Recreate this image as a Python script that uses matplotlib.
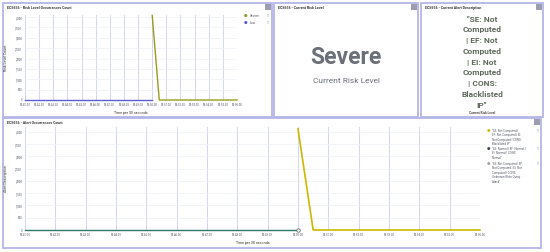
import matplotlib
matplotlib.use("Agg")
import matplotlib.pyplot as plt
from matplotlib.patches import Rectangle

plt.rcParams['font.family'] = ['Roboto', 'DejaVu Sans']

# time axis labels (one tick per minute), data every 30 seconds
time_labels = ["09:41:00", "09:42:00", "09:43:00", "09:44:00", "09:45:00", "09:46:00",
               "09:47:00", "09:48:00", "09:49:00", "09:50:00", "09:51:00", "09:52:00",
               "09:53:00", "09:54:00", "09:55:00", "09:56:00"]
y_ticks = [0, 500, 1000, 1500, 2000, 2500, 3000, 3500, 4000]

# risk level occurrences
low_t = [0.0, 0.5, 1.0, 1.5, 2.0, 2.5, 3.0, 3.5, 4.0, 4.5, 5.0, 5.5, 6.0, 6.5, 7.0, 7.5, 8.0, 8.5, 9.0]
low_v = [0, 0, 0, 0, 0, 0, 0, 0, 0, 0, 0, 0, 0, 0, 0, 0, 0, 0, 0]
severe_t = [9.0, 9.5, 10.0, 10.5, 11.0, 11.5, 12.0, 12.5, 13.0, 13.5, 14.0, 14.5, 15.0]
severe_v = [4080, 0, 0, 0, 0, 0, 0, 0, 0, 0, 0, 0, 0]

# alert occurrences
normal_t = [0.0, 0.5, 1.0, 1.5, 2.0, 2.5, 3.0, 3.5, 4.0, 4.5, 5.0, 5.5, 6.0, 6.5, 7.0, 7.5, 8.0, 8.5, 9.0]
normal_v = [0, 0, 0, 0, 0, 0, 0, 0, 0, 0, 0, 0, 0, 0, 0, 0, 0, 0, 0]
blacklist_t = [9.0, 9.5, 10.0, 10.5, 11.0, 11.5, 12.0, 12.5, 13.0, 13.5, 14.0, 14.5, 15.0]
blacklist_v = [4120, 0, 0, 0, 0, 0, 0, 0, 0, 0, 0, 0, 0]

alert_labels = [['"SE: Not Computed |', 'EF: Not Computed | EI:', 'Not Computed | CONS:', 'Blacklisted IP"'],
                ['"SE: Normal | EF: Normal |', 'EI: Normal | CONS:', 'Normal"'],
                ['"SE: Not Computed | EF:', 'Not Computed | EI: Not', 'Computed | CONS:',
                 'Unknown Write Query', 'Attack"']]
alert_counts = ["1", "1", "1"]

W, H = 550, 252
fig = plt.figure(figsize=(W / 100, H / 100), dpi=100)
fig.patch.set_facecolor("white")

border = "#b4b5e6"
grid_c = "#d3d4f2"
txt_c = "#555a66"


def rect(x0, y0, x1, y1):
    return [x0 / W, 1 - y1 / H, (x1 - x0) / W, (y1 - y0) / H]


def ftext(x, y, s, **kw):
    fig.text(x / W, 1 - y / H, s, **kw)


def panel(x0, y0, x1, y1, title):
    fig.patches.append(Rectangle((x0 / W, 1 - y1 / H), (x1 - x0) / W, (y1 - y0) / H,
                                 transform=fig.transFigure, facecolor="white",
                                 edgecolor=border, lw=1.3, zorder=-5))
    fig.patches.append(Rectangle(((x1 - 7) / W, 1 - (y0 + 7) / H), 6 / W, 6 / H,
                                 transform=fig.transFigure, facecolor="#9c9db0",
                                 edgecolor="none", zorder=-4))
    ftext(x0 + 4, y0 + 5, title, fontsize=2.6, fontweight="bold", color="#333",
          va="center", ha="left")


panel(3, 3, 272, 117, "ECS656 - Risk Level Occurrences Count")
panel(274, 3, 418, 117, "ECS656 - Current Risk Level")
panel(421, 3, 543, 117, "ECS656 - Current Alert Description")
panel(3, 118, 541, 248, "ECS656 - Alert Occurrences Count")


def style_axes(ax, top):
    ax.set_xlim(0, 15)
    ax.set_ylim(0, top)
    ax.set_xticks(range(len(time_labels)))
    ax.set_xticklabels(time_labels, fontsize=2.1, color=txt_c)
    ax.set_yticks(y_ticks)
    ax.set_yticklabels([f"{v:,}" for v in y_ticks], fontsize=2.1, color=txt_c)
    ax.tick_params(length=0, pad=2)
    for s in ax.spines.values():
        s.set_visible(False)
    ax.grid(axis="x", color=grid_c, lw=0.7)
    ax.grid(axis="y", color="#eeeef8", lw=0.5)
    ax.set_axisbelow(True)
    ax.set_facecolor("none")


# top chart
ax1 = fig.add_axes(rect(25, 15, 237, 100))
ax1.plot(low_t, low_v, color="#5b5fd8", lw=1.0, zorder=3, clip_on=False)
ax1.plot(severe_t, severe_v, color="#9a9c1c", lw=1.0, zorder=3, clip_on=False)
style_axes(ax1, 4100)
ax1.set_ylabel("Risk Level Count", fontsize=2.6, color="#333", labelpad=5)
ax1.set_xlabel("Time per 30 seconds", fontsize=2.6, color="#333", labelpad=3)
ftext(246, 16, "●", fontsize=3, color="#8e9a26", va="center", ha="center")
ftext(250, 16, "Severe", fontsize=2.3, color=txt_c, va="center")
ftext(267, 16, "1", fontsize=2.3, color=txt_c, va="center")
ftext(246, 23, "●", fontsize=3, color="#4d55d0", va="center", ha="center")
ftext(250, 23, "Low", fontsize=2.3, color=txt_c, va="center")
ftext(267, 23, "1", fontsize=2.3, color=txt_c, va="center")

# current risk level
ftext(346, 58, "Severe", fontsize=16.5, fontweight="bold", color="#6b6f78",
      ha="center", va="center")
ftext(346, 81, "Current Risk Level", fontsize=6, color="#6b6f78", ha="center", va="center")

# current alert description
desc_lines = ['"SE: Not', 'Computed', '| EF: Not', 'Computed', '| EI: Not',
              'Computed', '| CONS:', 'Blacklisted', 'IP"']
for i, line in enumerate(desc_lines):
    ftext(482, 19 + i * 10.75, line, fontsize=6, fontweight="bold", color="#5e6a5c",
          ha="center", va="center")
ftext(482, 113, "Current Risk Level", fontsize=2.3, fontweight="bold", color="#444",
      ha="center", va="center")

# bottom chart
ax2 = fig.add_axes(rect(25, 127, 480, 230))
ax2.plot(normal_t, normal_v, color="#2f7a66", lw=1.0, zorder=3, clip_on=False)
ax2.plot(normal_t[-1:], normal_v[-1:], marker="o", ms=2.5, mfc="white", mec="#666",
         mew=0.6, zorder=4, clip_on=False)
ax2.plot(blacklist_t, blacklist_v, color="#cdb800", lw=1.2, zorder=3, clip_on=False)
style_axes(ax2, 4200)
ax2.set_ylabel("Alert Description", fontsize=2.6, color="#333", labelpad=5)
ax2.set_xlabel("Time per 30 seconds", fontsize=2.6, color="#333", labelpad=3)

leg_colors = ["#cdb800", "#3c4a44", "#a0a0a0"]
leg_y = [131, 149, 164]
for lines, cnt, c, yy in zip(alert_labels, alert_counts, leg_colors, leg_y):
    ftext(488, yy, "●", fontsize=2.8, color=c, va="center", ha="center")
    for k, ln in enumerate(lines):
        ftext(492, yy + k * 4.4, ln, fontsize=2.1, color=txt_c, va="center", ha="left")
    ftext(537, yy, cnt, fontsize=2.3, color=txt_c, va="center")

plt.savefig("out.png", dpi=100)
